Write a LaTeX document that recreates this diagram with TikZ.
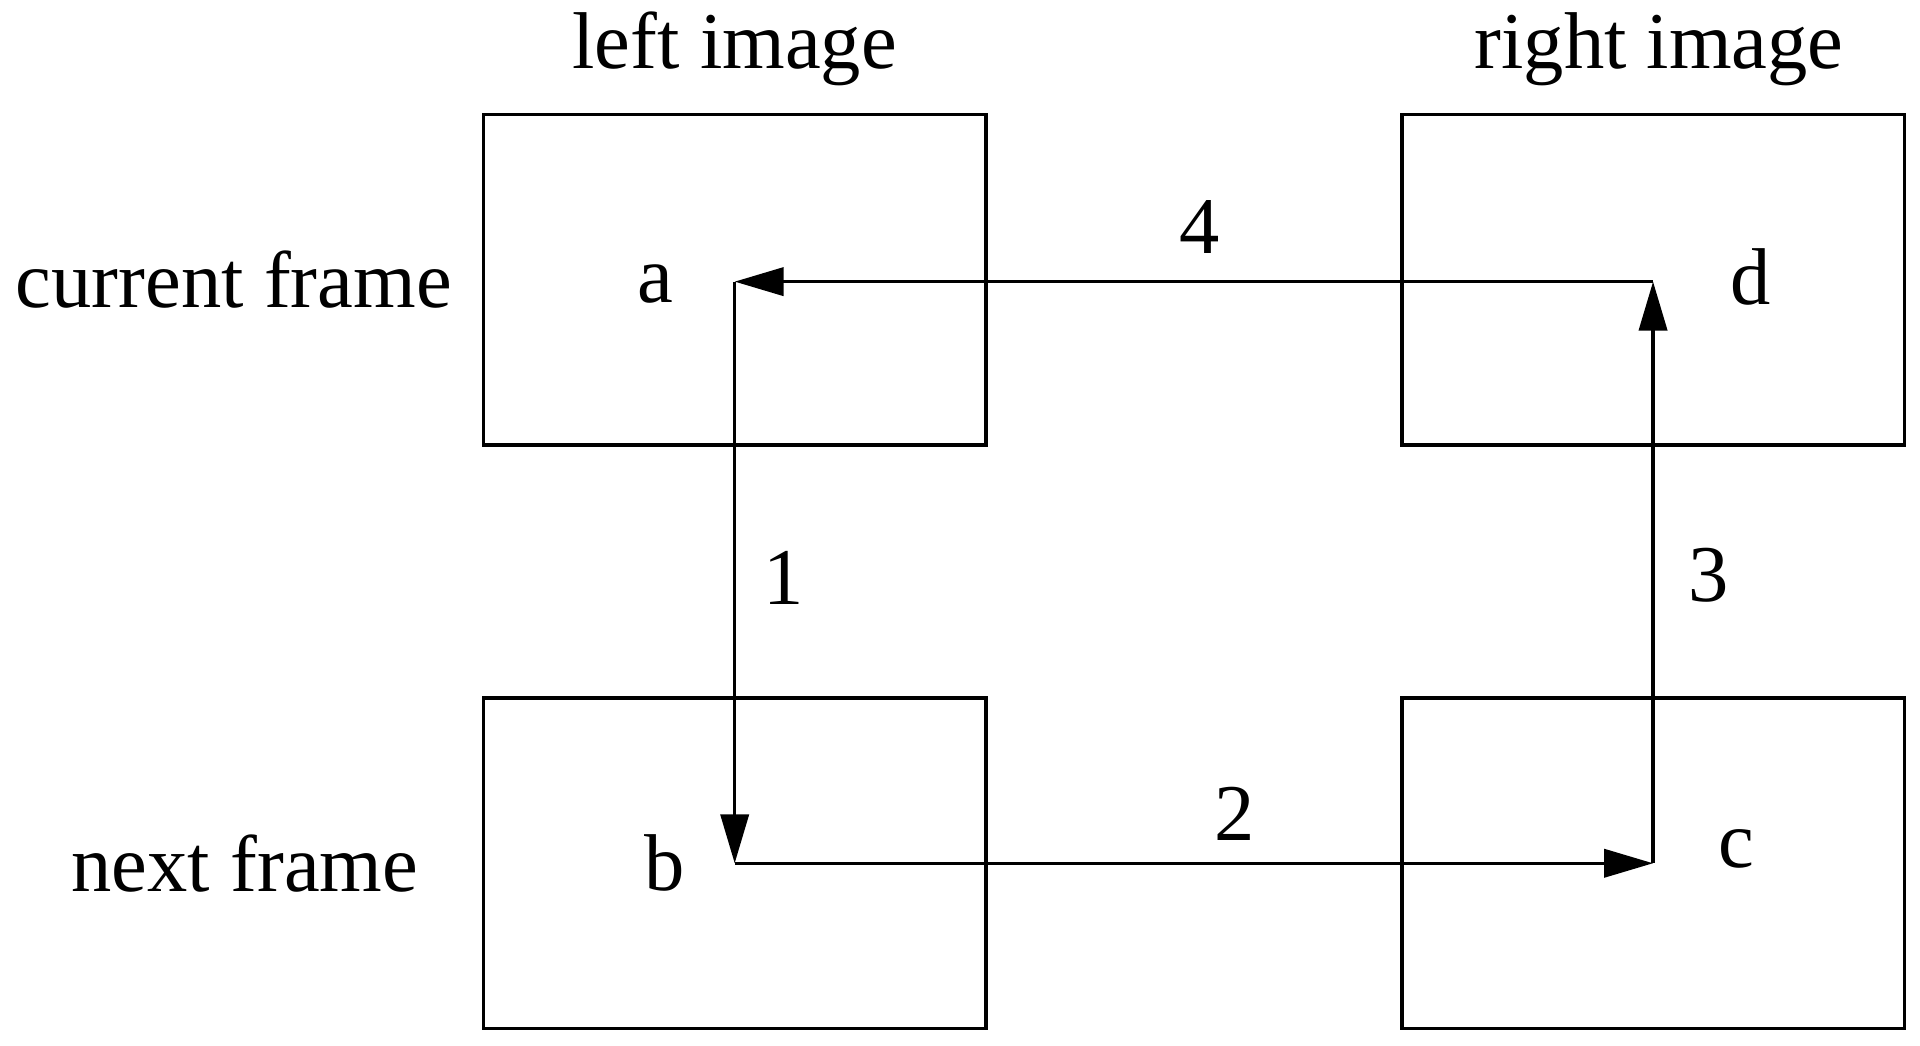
\documentclass[tikz,border=0pt]{standalone}
\usepackage{fontspec}
\setmainfont{Liberation Serif}
\usetikzlibrary{arrows.meta}
\begin{document}
\begin{tikzpicture}[x=0.01cm,y=-0.01cm,
  frame/.style={draw,line width=0.8pt,minimum width=4.1cm,minimum height=2.7cm,inner sep=0},
  lbl/.style={font=\fontsize{18.7}{22}\selectfont,inner sep=0},
  arr/.style={line width=0.8pt,-{Triangle[length=4mm,width=2.3mm]}}]
\useasboundingbox (0,0) rectangle (1568,854);
\node[frame] (A) at (600,228.5) {};
\node[frame] (D) at (1350,228.5) {};
\node[frame] (B) at (600,705) {};
\node[frame] (C) at (1350,705) {};
\coordinate (pa) at (600,230);
\coordinate (pb) at (600,705);
\coordinate (pc) at (1350,705);
\coordinate (pd) at (1350,230);
\draw[arr] (pa) -- (pb);
\draw[arr] (pb) -- (pc);
\draw[arr] (pc) -- (pd);
\draw[arr] (pd) -- (pa);
\node[lbl] (ta) at (535,232) {a};
\node[lbl] (td) at (1430,226) {d};
\node[lbl] (tb) at (543,705) {b};
\node[lbl] (tc) at (1418,693) {c};
\node[lbl] (l1) at (640,472) {1};
\node[lbl] (l2) at (1008,665) {2};
\node[lbl] (l3) at (1395,470) {3};
\node[lbl] (l4) at (980,185) {4};
\node[lbl] (li) at (600,40) {left image};
\node[lbl] (ri) at (1355,40) {right image};
\node[lbl] (cf) at (191,228) {current frame};
\node[lbl] (nf) at (200,705) {next frame};
\end{tikzpicture}
\end{document}
